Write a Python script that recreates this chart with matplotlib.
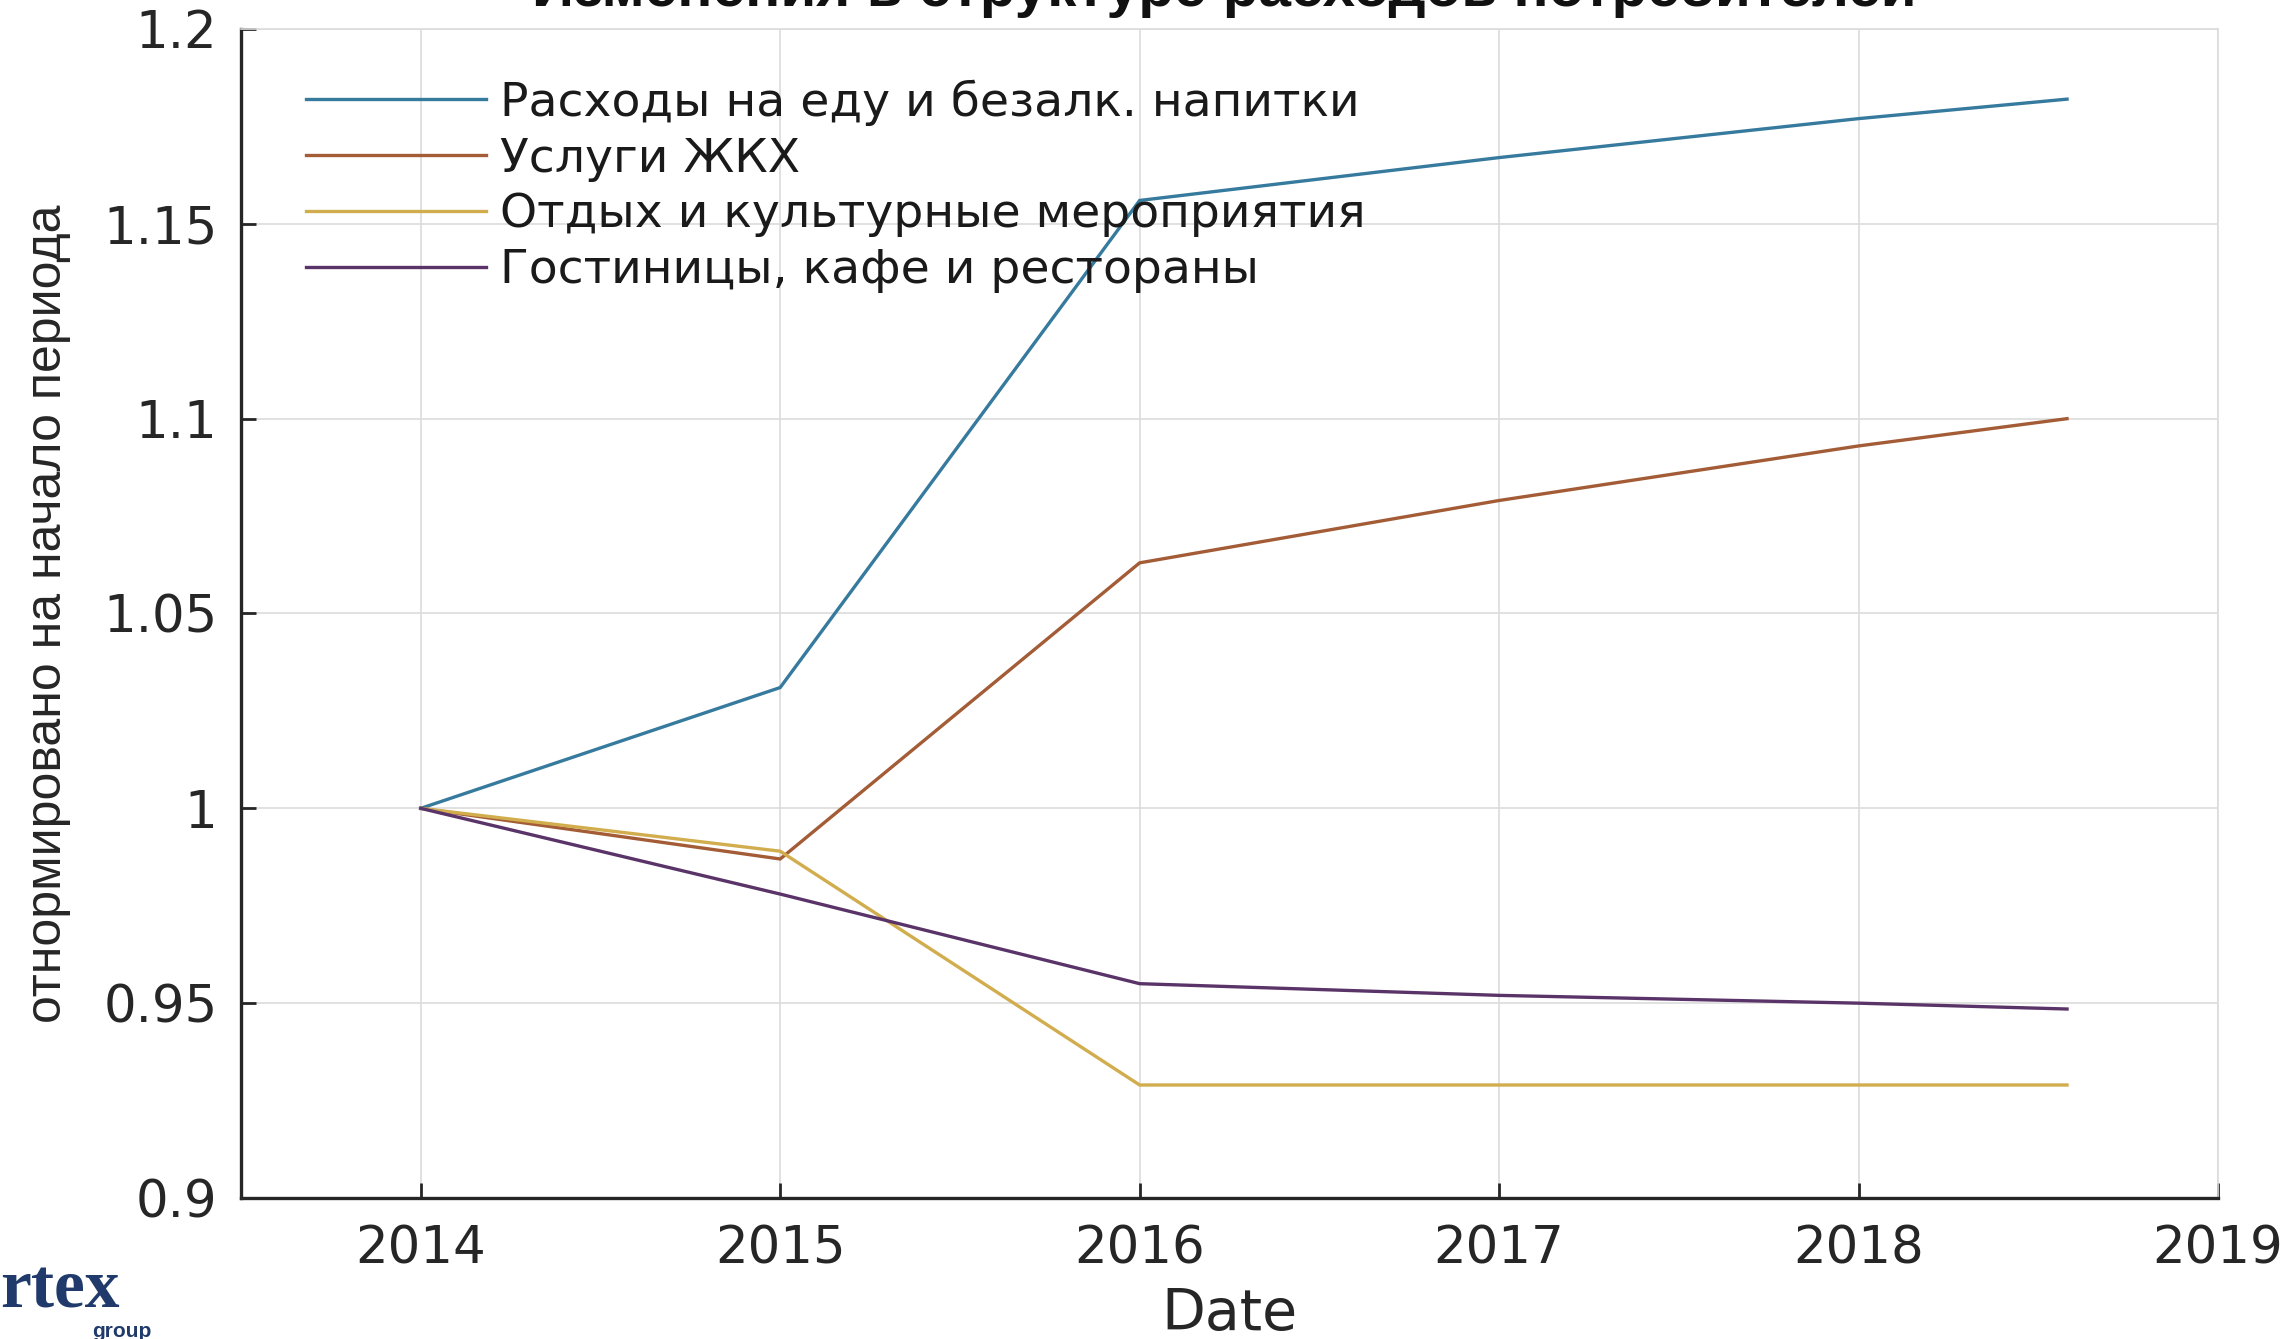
import matplotlib
matplotlib.use("Agg")
import matplotlib.pyplot as plt
from matplotlib.ticker import FuncFormatter, FixedLocator

# ---- data ----
years = [2014, 2015, 2016, 2017, 2018, 2018.58]
food = [1.000, 1.031, 1.156, 1.167, 1.177, 1.182]
housing = [1.000, 0.987, 1.063, 1.079, 1.093, 1.100]
leisure = [1.000, 0.989, 0.929, 0.929, 0.929, 0.929]
hotels = [1.000, 0.978, 0.955, 0.952, 0.950, 0.9485]

series_labels = [
    "Расходы на еду и безалк. напитки",
    "Услуги ЖКХ",
    "Отдых и культурные мероприятия",
    "Гостиницы, кафе и рестораны",
]
x_ticks = [2014, 2015, 2016, 2017, 2018, 2019]
y_ticks = [0.9, 0.95, 1.0, 1.05, 1.1, 1.15, 1.2]
title = "Изменения в структуре расходов потребителей"
x_label = "Date"
y_label = "отнормировано на начало периода"

colors = ["#367a9e", "#a35c36", "#d1ad4e", "#5a3468"]

W, H = 2293, 1339
fig = plt.figure(figsize=(W / 100, H / 100), dpi=100)
ax = fig.add_axes([241 / W, 1 - 1198 / H, (2218 - 241) / W, (1198 - 29) / H])

for vals, lab, c in zip([food, housing, leisure, hotels], series_labels, colors):
    ax.plot(years, vals, color=c, lw=2.4, label=lab, solid_joinstyle="miter")

ax.set_xlim(2013.5, 2019)
ax.set_ylim(0.9, 1.2)
ax.xaxis.set_major_locator(FixedLocator(x_ticks))
ax.yaxis.set_major_locator(FixedLocator(y_ticks))
ax.xaxis.set_major_formatter(FuncFormatter(lambda v, p: "%d" % round(v)))
ax.yaxis.set_major_formatter(FuncFormatter(lambda v, p: "%g" % round(v, 2)))

ax.grid(True, color="#dcdcdc", lw=1.2)
ax.set_axisbelow(True)
for s in ["top", "right"]:
    ax.spines[s].set_color("#dcdcdc")
    ax.spines[s].set_linewidth(1.2)
for s in ["left", "bottom"]:
    ax.spines[s].set_color("#262626")
    ax.spines[s].set_linewidth(2.4)

ax.tick_params(axis="both", direction="in", length=11, width=2, color="#262626",
               labelcolor="#262626", labelsize=37, top=False, right=False)
ax.tick_params(axis="x", pad=19)
ax.tick_params(axis="y", pad=17)
for t in ax.get_xticklabels() + ax.get_yticklabels():
    t.set_family("DejaVu Sans")

ax.set_xlabel(x_label, fontsize=41, family="DejaVu Sans", color="#262626", labelpad=9)
ax.set_ylabel(y_label, fontsize=36, family="Liberation Sans", color="#262626", labelpad=23)

leg = ax.legend(loc="upper left", bbox_to_anchor=(0.033, 0.957), frameon=False,
                prop={"family": "DejaVu Sans", "size": 34},
                handlelength=3.8, handletextpad=0.3, labelspacing=0.23,
                borderpad=0, borderaxespad=0)
for t in leg.get_texts():
    t.set_color("#1a1a1a")
for h in leg.get_lines():
    h.set_linewidth(2.4)

fig.text(1224 / W, 1 - 6 / H, title, ha="center", va="baseline",
         fontsize=42, fontweight="bold", family="Liberation Sans", color="#111111")

# logo fragment
fig.text(0 / W, 1 - 1307 / H, "rtex", ha="left", va="baseline", fontsize=50,
         fontweight="bold", family="Liberation Serif", color="#1f3a6b")
fig.text(92 / W, 1 - 1322 / H, "group", ha="left", va="top", fontsize=15,
         fontweight="bold", family="Liberation Sans", color="#1f3a6b")

fig.savefig("out.png", dpi=100)
